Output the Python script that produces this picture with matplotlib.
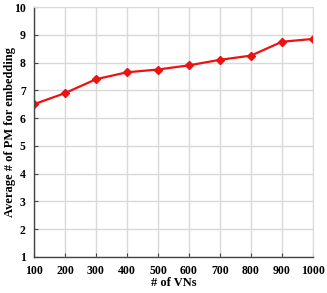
import matplotlib
matplotlib.use('Agg')
import matplotlib.pyplot as plt

# data
num_vns = [100, 200, 300, 400, 500, 600, 700, 800, 900, 1000]
avg_pm = [6.5, 6.9, 7.4, 7.65, 7.75, 7.9, 8.1, 8.25, 8.75, 8.85]

plt.rcParams['font.family'] = ['Liberation Serif', 'DejaVu Serif']
plt.rcParams['font.weight'] = 'bold'

fig = plt.figure(figsize=(3.27, 2.93), dpi=100)
ax = fig.add_axes([0.104, 0.123, 0.853, 0.853])

ax.plot(num_vns, avg_pm, color='#ee1111', linewidth=1.6, marker='D', markersize=3.8)

ax.set_xlim(100, 1000)
ax.set_ylim(1, 10)
ax.set_xticks(num_vns)
ax.set_yticks(range(1, 11))
ax.grid(True, color='#d9d9d9', linewidth=1.0)
ax.set_axisbelow(True)

for s in ['top', 'right']:
    ax.spines[s].set_color('#d9d9d9')
for s in ['left', 'bottom']:
    ax.spines[s].set_color('#444444')
    ax.spines[s].set_linewidth(1.0)

ax.tick_params(direction='in', length=3, color='#444444', labelsize=8.5, pad=6)
for lab in ax.get_xticklabels() + ax.get_yticklabels():
    lab.set_fontweight('bold')

ax.set_xlabel('# of VNs', fontsize=9, fontweight='bold', labelpad=0)
ax.set_ylabel('Average # of PM for embedding', fontsize=9, fontweight='bold')
ax.yaxis.set_label_coords(-0.064, 0.5)

fig.savefig('out.png', dpi=100)
